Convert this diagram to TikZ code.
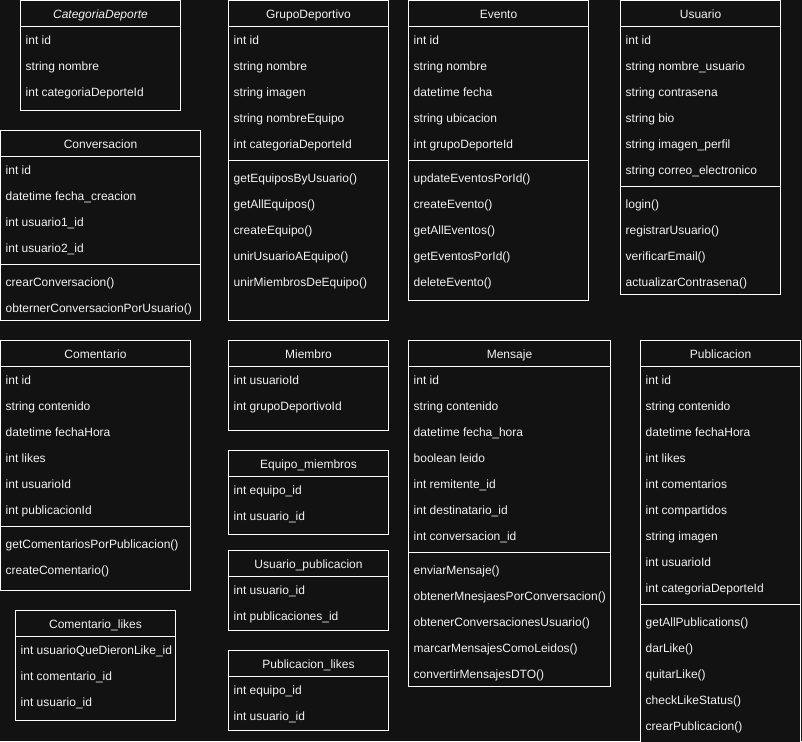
\documentclass[tikz,border=0pt]{standalone}
\usepackage{fontspec}
\setmainfont{Liberation Sans}
\usetikzlibrary{calc}
\definecolor{bg}{HTML}{121212}
\definecolor{fg}{HTML}{F2F2F2}
\newcommand\umlclass[8]{%
  \node[classbox, minimum width=#4pt, minimum height=#5pt] (#1) at (#2,#3) {};
  \node[titletext] (#1-t) at ($(#1.north)+(0,18)$) {#6};
  \draw[rule] ($(#1.north west)+(0,26)$) -- ($(#1.north east)+(0,26)$);
  \foreach \a [count=\i] in {#7} {%
    \node[rowtext] (#1-a\i) at ($(#1.north west)+(5,{44+26*(\i-1)})$) {\a};
    \xdef\nattr{\i}}%
  \if\relax\detokenize{#8}\relax\else
    \draw[rule] ($(#1.north west)+(0,{30+26*\nattr})$) -- ($(#1.north east)+(0,{30+26*\nattr})$);
    \foreach \m [count=\j] in {#8} {%
      \node[rowtext] (#1-m\j) at ($(#1.north west)+(5,{52+26*\nattr+26*(\j-1)})$) {\m};}%
  \fi
}
\begin{document}
\begin{tikzpicture}[x=1pt,y=-1pt,
  classbox/.style={draw=white, line width=1pt, fill=bg, rectangle, inner sep=0pt, outer sep=0pt, anchor=north west},
  rule/.style={draw=white, line width=1pt},
  titletext/.style={text=fg, font=\fontsize{12}{14}\selectfont, inner sep=0pt, anchor=base},
  rowtext/.style={text=fg, font=\fontsize{12}{14}\selectfont, inner sep=0pt, anchor=base west}]
\fill[bg] (0,0) rectangle (802,741);
\useasboundingbox (0,0) rectangle (802,741);
\clip (0,0) rectangle (802,741);

\umlclass{cat}{20.5}{0.5}{160}{110}{\itshape CategoriaDeporte}
  {int id, string nombre, int categoriaDeporteId}{}
\umlclass{grupo}{228.5}{0.5}{160}{320}{GrupoDeportivo}
  {int id, string nombre, string imagen, string nombreEquipo, int categoriaDeporteId}
  {getEquiposByUsuario(), getAllEquipos(), createEquipo(), unirUsuarioAEquipo(), unirMiembrosDeEquipo()}
\umlclass{evento}{408.5}{0.5}{180}{300}{Evento}
  {int id, string nombre, datetime fecha, string ubicacion, int grupoDeporteId}
  {updateEventosPorId(), createEvento(), getAllEventos(), getEventosPorId(), deleteEvento()}
\umlclass{usuario}{620.5}{0.5}{160}{294}{Usuario}
  {int id, string nombre\_usuario, string contrasena, string bio, string imagen\_perfil, string correo\_electronico}
  {login(), registrarUsuario(), verificarEmail(), actualizarContrasena()}
\umlclass{conv}{0.5}{130.5}{200}{190}{Conversacion}
  {int id, datetime fecha\_creacion, int usuario1\_id, int usuario2\_id}
  {crearConversacion(), obternerConversacionPorUsuario()}
\umlclass{coment}{0.5}{340.5}{190}{250}{Comentario}
  {int id, string contenido, datetime fechaHora, int likes, int usuarioId, int publicacionId}
  {getComentariosPorPublicacion(), createComentario()}
\umlclass{comlikes}{15.5}{610.5}{160}{110}{Comentario\_likes}
  {int usuarioQueDieronLike\_id, int comentario\_id, int usuario\_id}{}
\umlclass{miembro}{228.5}{340.5}{160}{90}{Miembro}
  {int usuarioId, int grupoDeportivoId}{}
\umlclass{eqmiem}{228.5}{450.5}{160}{84}{Equipo\_miembros}
  {int equipo\_id, int usuario\_id}{}
\umlclass{usupub}{228.5}{550.5}{160}{80}{Usuario\_publicacion}
  {int usuario\_id, int publicaciones\_id}{}
\umlclass{publikes}{228.5}{650.5}{160}{80}{Publicacion\_likes}
  {int equipo\_id, int usuario\_id}{}
\umlclass{mensaje}{408.5}{340.5}{202}{346}{Mensaje}
  {int id, string contenido, datetime fecha\_hora, boolean leido, int remitente\_id, int destinatario\_id, int conversacion\_id}
  {enviarMensaje(), obtenerMnesjaesPorConversacion(), obtenerConversacionesUsuario(), marcarMensajesComoLeidos(), convertirMensajesDTO()}
\umlclass{publ}{640.5}{340.5}{160}{420}{Publicacion}
  {int id, string contenido, datetime fechaHora, int likes, int comentarios, int compartidos, string imagen, int usuarioId, int categoriaDeporteId}
  {getAllPublications(), darLike(), quitarLike(), checkLikeStatus(), crearPublicacion()}
\end{tikzpicture}
\end{document}
